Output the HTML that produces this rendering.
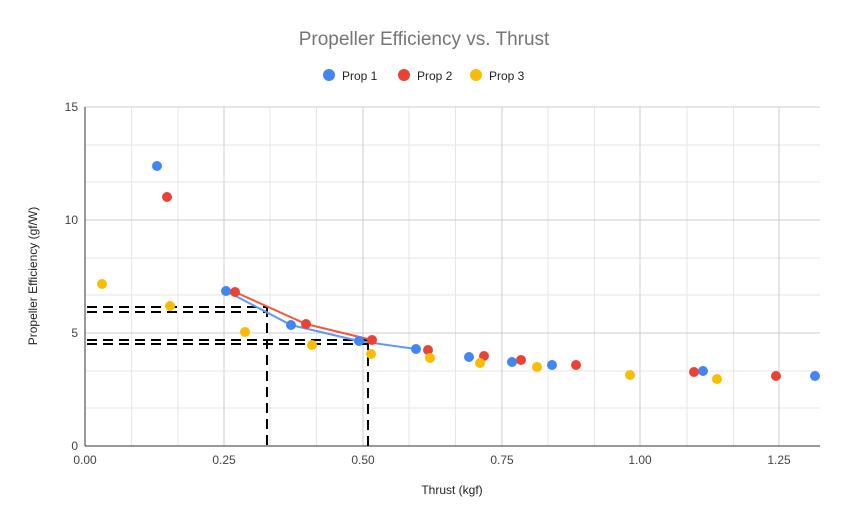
<!DOCTYPE html>
<html><head><meta charset="utf-8"><style>body{margin:0;background:#fff}svg{display:block}</style></head><body>
<svg width="848" height="524" xmlns="http://www.w3.org/2000/svg" font-family="Liberation Sans, Arial, sans-serif">
<rect width="848" height="524" fill="#fff"/>
<text x="424" y="45" text-anchor="middle" font-size="19" fill="#757575">Propeller Efficiency vs. Thrust</text>
<circle cx="329" cy="75" r="6" fill="#4285f4"/><text x="342" y="80" font-size="12" fill="#222">Prop  1</text>
<circle cx="404" cy="75" r="6" fill="#ea4335"/><text x="417" y="80" font-size="12" fill="#222">Prop 2</text>
<circle cx="476" cy="75" r="6" fill="#fbbc04"/><text x="489" y="80" font-size="12" fill="#222">Prop 3</text>
<g stroke="#e6e6e6" stroke-width="1">
<line x1="85" x2="820" y1="145" y2="145"/><line x1="85" x2="820" y1="182" y2="182"/><line x1="85" x2="820" y1="258" y2="258"/><line x1="85" x2="820" y1="295" y2="295"/><line x1="85" x2="820" y1="371" y2="371"/><line x1="85" x2="820" y1="408" y2="408"/>
<line x1="131.5" x2="131.5" y1="107" y2="446"/><line x1="178" x2="178" y1="107" y2="446"/><line x1="270" x2="270" y1="107" y2="446"/><line x1="316.5" x2="316.5" y1="107" y2="446"/><line x1="409" x2="409" y1="107" y2="446"/><line x1="455.5" x2="455.5" y1="107" y2="446"/><line x1="548" x2="548" y1="107" y2="446"/><line x1="594.5" x2="594.5" y1="107" y2="446"/><line x1="687" x2="687" y1="107" y2="446"/><line x1="733.5" x2="733.5" y1="107" y2="446"/>
</g>
<g stroke="#cccccc" stroke-width="1">
<line x1="85" x2="820" y1="107" y2="107"/><line x1="85" x2="820" y1="220" y2="220"/><line x1="85" x2="820" y1="333" y2="333"/>
<line x1="224" x2="224" y1="107" y2="446"/><line x1="363" x2="363" y1="107" y2="446"/><line x1="502" x2="502" y1="107" y2="446"/><line x1="640" x2="640" y1="107" y2="446"/><line x1="779" x2="779" y1="107" y2="446"/>
</g>
<line x1="85" x2="820" y1="446" y2="446" stroke="#333"/>
<line x1="85" x2="85" y1="107" y2="446" stroke="#333"/>
<g font-size="12" fill="#444" text-anchor="end">
<text x="78" y="111">15</text><text x="78" y="224">10</text><text x="78" y="337">5</text><text x="78" y="450">0</text></g>
<g font-size="12" fill="#444" text-anchor="middle">
<text x="85" y="464">0.00</text><text x="224" y="464">0.25</text><text x="363" y="464">0.50</text><text x="502" y="464">0.75</text><text x="640" y="464">1.00</text><text x="779" y="464">1.25</text></g>
<text x="452" y="494" text-anchor="middle" font-size="12" fill="#222">Thrust (kgf)</text>
<text transform="translate(37,276) rotate(-90)" text-anchor="middle" font-size="12" fill="#222">Propeller Efficiency (gf/W)</text>
<g stroke="#000" stroke-width="2" stroke-dasharray="10,6" fill="none">
<line x1="87" x2="267" y1="307" y2="307"/><line x1="87" x2="267" y1="312" y2="312"/>
<line x1="267" x2="267" y1="307" y2="446"/>
<line x1="87" x2="368" y1="340" y2="340"/><line x1="87" x2="368" y1="344" y2="344"/>
<line x1="368" x2="368" y1="340" y2="446"/>
</g>
<polyline points="226,291 291,325 359,341 416,349" stroke="#5b9bf5" stroke-width="2" fill="none"/>
<polyline points="235,292 306,324 372,340" stroke="#f4573a" stroke-width="2" fill="none"/>
<g fill="#4285f4">
<circle cx="157" cy="166" r="5"/><circle cx="226" cy="291" r="5"/><circle cx="291" cy="325" r="5"/><circle cx="359" cy="341" r="5"/><circle cx="416" cy="349" r="5"/><circle cx="469" cy="357" r="5"/><circle cx="512" cy="362" r="5"/><circle cx="552" cy="365" r="5"/><circle cx="703" cy="371" r="5"/><circle cx="815" cy="376" r="5"/></g>
<g fill="#ea4335">
<circle cx="167" cy="197" r="5"/><circle cx="235" cy="292" r="5"/><circle cx="306" cy="324" r="5"/><circle cx="372" cy="340" r="5"/><circle cx="428" cy="350" r="5"/><circle cx="484" cy="356" r="5"/><circle cx="521" cy="360" r="5"/><circle cx="576" cy="365" r="5"/><circle cx="694" cy="372" r="5"/><circle cx="776" cy="376" r="5"/></g>
<g fill="#fbbc04">
<circle cx="102" cy="284" r="5"/><circle cx="170" cy="306" r="5"/><circle cx="245" cy="332" r="5"/><circle cx="312" cy="345" r="5"/><circle cx="371" cy="354" r="5"/><circle cx="430" cy="358" r="5"/><circle cx="480" cy="363" r="5"/><circle cx="537" cy="367" r="5"/><circle cx="630" cy="375" r="5"/><circle cx="717" cy="379" r="5"/></g>
</svg>
</body></html>
